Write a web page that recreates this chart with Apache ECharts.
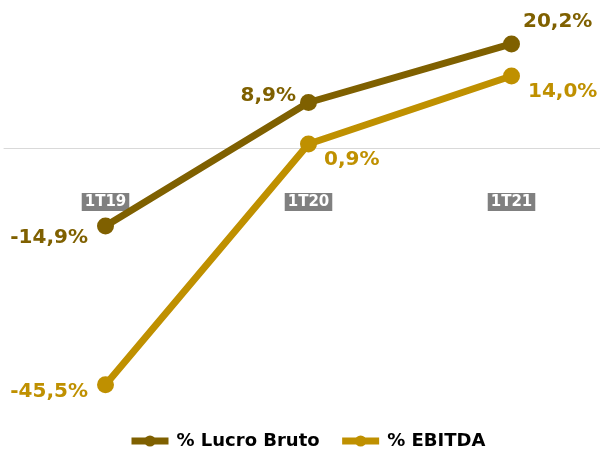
<!DOCTYPE html>
<html><head><meta charset="utf-8">
<script src="https://cdn.jsdelivr.net/npm/echarts@6/dist/echarts.min.js"></script>
<style>html,body{margin:0;padding:0;background:#fff}#c{width:600px;height:452px}</style>
</head><body><div id="c"></div>
<script>
const categories = ['1T19', '1T20', '1T21'];
const lucroBruto = [-14.9, 8.9, 20.2];
const ebitda = [-45.5, 0.9, 14.0];
const seriesNames = ['% Lucro Bruto', '% EBITDA'];

const cLucro = '#7F6000';
const cEbitda = '#BF9000';
const FONT = '"DejaVu Sans", sans-serif';

const lucroLabel = [
  {position: 'left', distance: 9, offset: [0, 12]},
  {position: 'left', distance: 4, offset: [0, -7]},
  {position: 'right', distance: 3, offset: [0, -22]}
];
const ebitdaLabel = [
  {position: 'left', distance: 9, offset: [0, 7]},
  {position: 'right', distance: 7, offset: [0, 16]},
  {position: 'right', distance: 8, offset: [0, 16]}
];
function fmt(v){ return v.toFixed(1).replace('.', ',') + '%'; }
function build(vals, labs){ return vals.map((v,i)=>({value:v, label:labs[i]})); }

const chart = echarts.init(document.getElementById('c'));
chart.setOption({
  animation: false,
  grid: {left: 4, width: 609, top: 19, height: 389, containLabel: false, outerBoundsMode: 'none'},
  legend: {
    top: 432, left: 128, padding: 0, itemWidth: 37, itemHeight: 14, itemGap: 19,
    lineStyle: {width: 7},
    textStyle: {fontFamily: FONT, fontSize: 18, fontWeight: 'bold', color: '#000', padding: [0,0,0,3]},
    data: seriesNames
  },
  xAxis: [{
    type: 'category', data: categories, boundaryGap: true,
    axisLine: {onZero: true, lineStyle: {color: '#D9D9D9', width: 1}},
    axisTick: {show: false},
    axisLabel: {show: false},
    z: 0
  }, {
    type: 'category', data: categories, boundaryGap: true, position: 'bottom', offset: -215,
    axisLine: {show: false, onZero: false},
    axisTick: {show: false},
    axisLabel: {margin: 0, color: '#fff', fontFamily: FONT, fontSize: 15, fontWeight: 'bold',
      backgroundColor: '#808080', padding: [2, 3, 1, 3]}
  }],
  yAxis: {type: 'value', min: -50, max: 25, show: false, splitLine: {show: false}},
  series: [
    {name: seriesNames[0], type: 'line', data: build(lucroBruto, lucroLabel),
     symbol: 'circle', symbolSize: 17, color: cLucro,
     lineStyle: {width: 7, color: cLucro}, itemStyle: {color: cLucro},
     label: {show: true, formatter: p => fmt(p.value), color: cLucro, fontFamily: FONT, fontSize: 20, fontWeight: 'bold'}},
    {name: seriesNames[1], type: 'line', data: build(ebitda, ebitdaLabel),
     symbol: 'circle', symbolSize: 17, color: cEbitda,
     lineStyle: {width: 7, color: cEbitda}, itemStyle: {color: cEbitda},
     label: {show: true, formatter: p => fmt(p.value), color: cEbitda, fontFamily: FONT, fontSize: 20, fontWeight: 'bold'}}
  ]
});
</script></body></html>
